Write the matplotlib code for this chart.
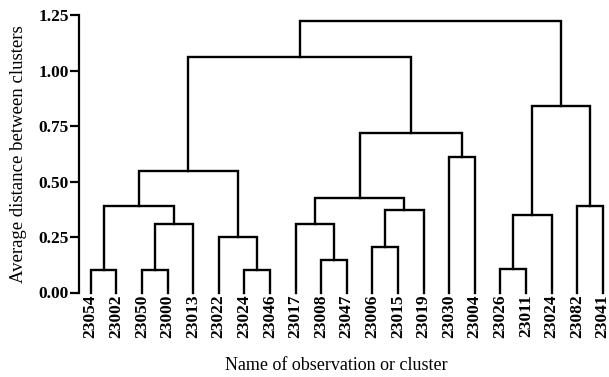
import numpy as np
import matplotlib
matplotlib.use("Agg")
import matplotlib.pyplot as plt

# leaves in display order
leaves = ["23054", "23002", "23050", "23000", "23013", "23022", "23024", "23046",
          "23017", "23008", "23047", "23006", "23015", "23019", "23030", "23004",
          "23026", "23011", "23024", "23082", "23041"]

# merges: (child a, child b, height); leaves are 0..20, new clusters 21, 22, ...
merge_a = [0, 2, 6, 16, 9, 11, 5, 22, 8, 24, 26, 21, 19, 29, 32, 14, 34, 30, 35, 39]
merge_b = [1, 3, 7, 17, 10, 12, 23, 4, 25, 18, 13, 28, 20, 31, 27, 15, 36, 33, 37, 38]
merge_h = [0.102, 0.102, 0.102, 0.105, 0.147, 0.207, 0.250, 0.310, 0.310, 0.350,
           0.373, 0.388, 0.391, 0.425, 0.548, 0.613, 0.721, 0.841, 1.063, 1.226]

yticks = [0.00, 0.25, 0.50, 0.75, 1.00, 1.25]

plt.rcParams['font.family'] = ['Liberation Serif', 'DejaVu Serif']

W, H = 609, 377
fig = plt.figure(figsize=(W / 100, H / 100), dpi=100)
x0, x1 = 79, 608
y_top, y_bot = 15.3, 292.5
ax = fig.add_axes([x0 / W, 1 - y_bot / H, (x1 - x0) / W, (y_bot - y_top) / H])

n = len(leaves)
pos = list(np.arange(n, dtype=float))
hgt = [0.0] * n
for a, b, h in zip(merge_a, merge_b, merge_h):
    xa, xb = pos[a], pos[b]
    ax.plot([xa, xa, xb, xb], [hgt[a], h, h, hgt[b]], color='black', lw=1.7,
            solid_joinstyle='miter', clip_on=False)
    pos.append((xa + xb) / 2)
    hgt.append(h)

step = 25.6
ax.set_xlim(-(90.7 - x0) / step, (x1 - x0) / step - (90.7 - x0) / step)
ax.set_ylim(0, 1.25)

for s in ['top', 'right', 'bottom']:
    ax.spines[s].set_visible(False)
ax.spines['left'].set_linewidth(1.6)

ax.set_yticks(yticks)
ax.set_yticklabels(["%.2f" % v for v in yticks], fontsize=12.5, fontweight='bold')
ax.tick_params(axis='y', direction='out', length=6.5, width=1.6, pad=1)

ax.set_xticks(np.arange(n))
ax.set_xticklabels(leaves, rotation=90, fontsize=12.5, fontweight='bold')
ax.tick_params(axis='x', length=0, pad=1.5)

fig.text(19 / W, 1 - 154 / H, "Average distance between clusters", rotation=90,
         ha='center', va='center', fontsize=13.5)
fig.text(336.5 / W, 1 - 365 / H, "Name of observation or cluster",
         ha='center', va='center', fontsize=13)

fig.savefig("out.png", dpi=100)
